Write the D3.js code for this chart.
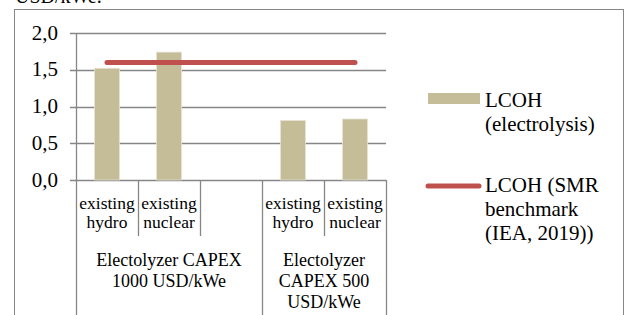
<!DOCTYPE html>
<html>
<head>
<meta charset="utf-8">
<script src="https://cdn.jsdelivr.net/npm/d3@7"></script>
<style>
  body { margin: 0; background: #fff; }
  text { font-family: "Liberation Serif", "Times New Roman", serif; fill: #000; }
</style>
</head>
<body>
<div id="chart"></div>
<script>
// categories along the x axis (blank one is the gap between groups)
const categories = [["existing", "hydro"], ["existing", "nuclear"], [], ["existing", "hydro"], ["existing", "nuclear"]];
// groups: first/last category index + label lines
const groupLabels = [
  { from: 0, to: 2, lines: ["Electolyzer CAPEX", "1000 USD/kWe"] },
  { from: 3, to: 4, lines: ["Electolyzer", "CAPEX 500", "USD/kWe"] }
];
const lcohElectrolysis = [1.52, 1.74, null, 0.81, 0.83];
const smrBenchmark = [1.6, 1.6, 1.6, 1.6, 1.6];
const yTicks = [0, 0.5, 1.0, 1.5, 2.0];
const legendLabels = [["LCOH", "(electrolysis)"], ["LCOH (SMR", "benchmark", "(IEA, 2019))"]];

const barColor = "#c4bd97";
const lineColor = "#c0504d";
const gridColor = "#868686";

const W = 627, H = 315;
const svg = d3.select("#chart").append("svg")
  .attr("width", W).attr("height", H);

// cut-off text line from the surrounding document
svg.append("text").attr("x", 15).attr("y", 3).style("font-size", "20px").text("USD/kWe.");

// outer frame (runs off the bottom)
svg.append("rect")
  .attr("x", 14.5).attr("y", 9.5).attr("width", 609).attr("height", 400)
  .attr("fill", "none").attr("stroke", gridColor);

const x = d3.scaleBand().domain(d3.range(categories.length)).range([76, 386]);
const y = d3.scaleLinear().domain([0, 2]).range([180, 33]);
const fmt = v => d3.format(".1f")(v).replace(".", ",");

// gridlines + y ticks
svg.selectAll(".grid").data(yTicks).enter().append("line")
  .attr("x1", 70).attr("x2", x.range()[1])
  .attr("y1", d => Math.round(y(d)) + 0.5).attr("y2", d => Math.round(y(d)) + 0.5)
  .attr("stroke", gridColor).attr("stroke-width", 1.3);
svg.selectAll(".ylab").data(yTicks).enter().append("text")
  .attr("x", 58).attr("y", d => y(d) + 6.5)
  .attr("text-anchor", "end").style("font-size", "21px")
  .text(fmt);

// category dividers: short between categories, long at group edges
const groupEdges = new Set([0]);
groupLabels.forEach(g => groupEdges.add(g.to + 1));
d3.range(categories.length + 1).forEach(i => {
  const xp = i < categories.length ? x(i) : x.range()[1];
  svg.append("line")
    .attr("x1", Math.round(xp) + 0.5).attr("x2", Math.round(xp) + 0.5)
    .attr("y1", i === 0 ? y(2) : y(0))
    .attr("y2", groupEdges.has(i) ? H : 236)
    .attr("stroke", gridColor).attr("stroke-width", 1.3);
});

// bars
svg.selectAll(".bar").data(lcohElectrolysis.map((v, i) => ({ v, i })).filter(d => d.v != null))
  .enter().append("rect")
  .attr("x", d => x(d.i) + x.bandwidth() * 0.3)
  .attr("width", x.bandwidth() * 0.4)
  .attr("y", d => y(d.v))
  .attr("height", d => y(0) - y(d.v))
  .attr("fill", barColor)
  .attr("stroke", "#e6e2d2").attr("stroke-width", 0.8);

// benchmark line
svg.append("path")
  .datum(smrBenchmark)
  .attr("fill", "none").attr("stroke", lineColor)
  .attr("stroke-width", 5).attr("stroke-linecap", "round")
  .attr("d", d3.line().x((d, i) => x(i) + x.bandwidth() / 2).y(d => y(d)));

// category labels
categories.forEach((lines, i) => {
  lines.forEach((t, j) => {
    svg.append("text")
      .attr("x", x(i) + x.bandwidth() / 2).attr("y", 209 + j * 19)
      .attr("text-anchor", "middle").style("font-size", "17.5px").text(t);
  });
});
groupLabels.forEach(g => {
  const cx = (x(g.from) + x(g.to) + x.bandwidth()) / 2;
  g.lines.forEach((t, j) => {
    svg.append("text")
      .attr("x", cx).attr("y", 266 + j * 21)
      .attr("text-anchor", "middle").style("font-size", "18px").text(t);
  });
});

// legend
const lg = svg.append("g");
lg.append("rect").attr("x", 428).attr("y", 93).attr("width", 52).attr("height", 11).attr("fill", barColor);
lg.append("line").attr("x1", 428).attr("x2", 479).attr("y1", 186).attr("y2", 186)
  .attr("stroke", lineColor).attr("stroke-width", 5).attr("stroke-linecap", "round");
[107, 192].forEach((by, k) => {
  legendLabels[k].forEach((t, j) => {
    lg.append("text").attr("x", 485).attr("y", by + j * 24)
      .style("font-size", "21px").text(t);
  });
});
</script>
</body>
</html>
